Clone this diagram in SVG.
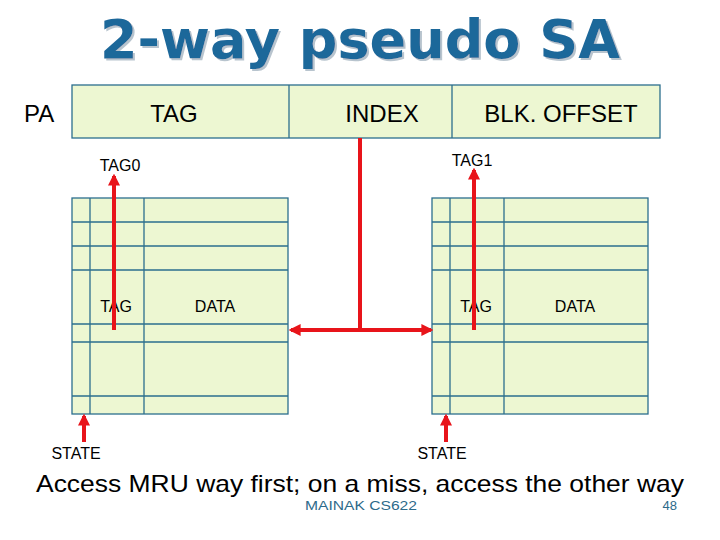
<svg xmlns="http://www.w3.org/2000/svg" width="720" height="540" viewBox="0 0 720 540">
<defs>
<style>
.box{fill:#EDF7D2;stroke:#2B6F8E;stroke-width:1.3}
.ln{stroke:#2B6F8E;stroke-width:1.3;fill:none}
.t{font-family:"Liberation Sans",Arial,sans-serif;fill:#000}
.red{stroke:#E8141A;stroke-width:4;fill:none}
</style>
<filter id="sh" x="-5%" y="-20%" width="110%" height="140%">
<feDropShadow dx="2" dy="2" stdDeviation="0.6" flood-color="#B8C4CE" flood-opacity="1"/>
</filter>
<marker id="ah" viewBox="0 0 10 10" refX="8" refY="5" markerWidth="3" markerHeight="3" orient="auto-start-reverse" markerUnits="strokeWidth">
<path d="M0,0 L10,5 L0,10 z" fill="#E8141A"/>
</marker>
</defs>
<rect width="720" height="540" fill="#fff"/>
<g id="title">
<text x="360" y="58" font-family="'DejaVu Sans',Verdana,sans-serif" font-weight="bold" font-size="54" fill="#1F679A" text-anchor="middle" textLength="520" lengthAdjust="spacingAndGlyphs" filter="url(#sh)">2-way pseudo SA</text>
</g>
<g id="pa">
<text class="t" x="24" y="122" font-size="24">PA</text>
<rect class="box" x="72" y="85" width="588" height="53"/>
<line class="ln" x1="289" y1="85" x2="289" y2="138"/>
<line class="ln" x1="452" y1="85" x2="452" y2="138"/>
<text class="t" x="174" y="122" font-size="24" text-anchor="middle">TAG</text>
<text class="t" x="382" y="122" font-size="24" text-anchor="middle">INDEX</text>
<text class="t" x="561" y="122" font-size="24" text-anchor="middle">BLK. OFFSET</text>
</g>
<g id="way0">
<rect class="box" x="72" y="198" width="216" height="216"/>
<path class="ln" d="M90,198V414M144,198V414M72,222H288M72,246H288M72,270H288M72,324H288M72,342H288M72,396H288"/>
<text class="t" x="116" y="312" font-size="16" text-anchor="middle">TAG</text>
<text class="t" x="215" y="312" font-size="16" text-anchor="middle">DATA</text>
<text class="t" x="120" y="171" font-size="16" text-anchor="middle">TAG0</text>
<text class="t" x="76" y="459" font-size="16" text-anchor="middle">STATE</text>
</g>
<g id="way1">
<rect class="box" x="432" y="198" width="216" height="216"/>
<path class="ln" d="M450,198V414M504,198V414M432,222H648M432,246H648M432,270H648M432,324H648M432,342H648M432,396H648"/>
<text class="t" x="476" y="312" font-size="16" text-anchor="middle">TAG</text>
<text class="t" x="575" y="312" font-size="16" text-anchor="middle">DATA</text>
<text class="t" x="472" y="166" font-size="16" text-anchor="middle">TAG1</text>
<text class="t" x="442" y="459" font-size="16" text-anchor="middle">STATE</text>
</g>
<g id="connectors">
<line class="red" x1="114" y1="330" x2="114" y2="176" marker-end="url(#ah)"/>
<line class="red" x1="474" y1="330" x2="474" y2="170" marker-end="url(#ah)"/>
<line class="red" x1="360" y1="138" x2="360" y2="330"/>
<line class="red" x1="291" y1="330" x2="431" y2="330" marker-start="url(#ah)" marker-end="url(#ah)"/>
<line class="red" x1="84" y1="442" x2="84" y2="416" marker-end="url(#ah)"/>
<line class="red" x1="446" y1="442" x2="446" y2="416" marker-end="url(#ah)"/>
</g>
<g id="footer">
<text class="t" x="36" y="492" font-size="24" textLength="648" lengthAdjust="spacingAndGlyphs">Access MRU way first; on a miss, access the other way</text>
<text x="305" y="510" font-family="'Liberation Sans',Arial,sans-serif" font-size="13" fill="#2D6A8A" textLength="112" lengthAdjust="spacingAndGlyphs">MAINAK CS622</text>
<text x="677" y="510" font-family="'Liberation Sans',Arial,sans-serif" font-size="13" fill="#2D6A8A" text-anchor="end">48</text>
</g>
</svg>
